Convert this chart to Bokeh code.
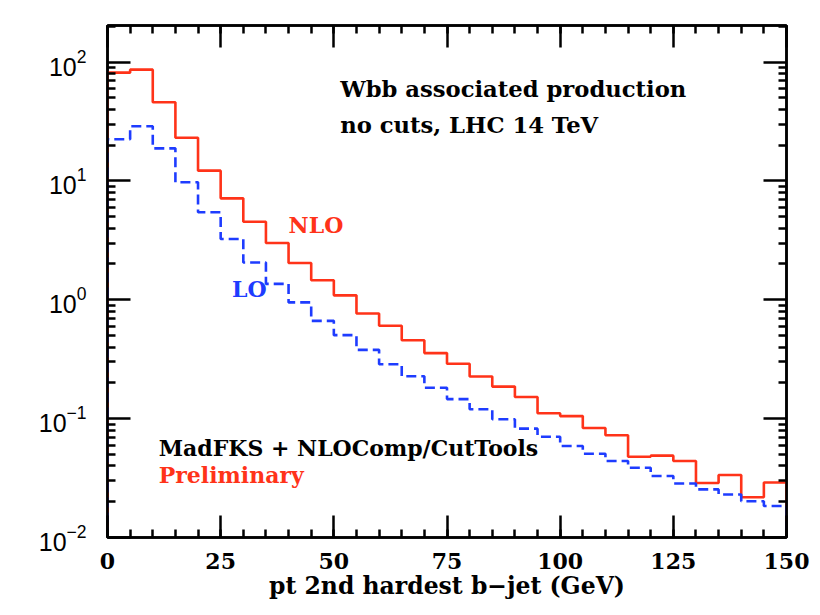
from bokeh.plotting import figure
from bokeh.models import (Range1d, FixedTicker, LinearAxis, LogAxis, Label,
                          CustomJSTickFormatter, LogTickFormatter)
from bokeh.embed import file_html
from bokeh.resources import INLINE

# ---- data -----------------------------------------------------------------
bin_edges = list(range(0, 155, 5))
nlo = [81.4, 86.3, 45.9, 23.1, 12.2, 7.13, 4.54, 3.0, 2.04, 1.46,
       1.09, 0.767, 0.604, 0.457, 0.356, 0.290, 0.226, 0.186, 0.152, 0.111,
       0.105, 0.0835, 0.0724, 0.0478, 0.0488, 0.044, 0.0287, 0.0336, 0.0218, 0.029]
lo = [22.4, 28.8, 18.8, 9.75, 5.45, 3.25, 2.06, 1.36, 0.95, 0.665,
      0.504, 0.379, 0.287, 0.227, 0.182, 0.146, 0.120, 0.0988, 0.0824, 0.0705,
      0.0589, 0.0507, 0.044, 0.0386, 0.0329, 0.0285, 0.0254, 0.023, 0.0202, 0.0184]

x_major = [0, 25, 50, 75, 100, 125, 150]
x_minor = list(range(0, 155, 5))
y_major = [0.01, 0.1, 1, 10, 100]
y_minor = [m * 10.0 ** e for e in range(-2, 3) for m in range(2, 10)]

Y_MIN, Y_MAX = 0.01, 203.0
X_MIN, X_MAX = 0, 150

RED = "#ff3319"
BLUE = "#1e3cff"
SERIF = "DejaVu Serif"
SANS = "Liberation Sans"


def step_path(edges, vals, floor):
    xs, ys = [edges[0]], [floor]
    for i, v in enumerate(vals):
        xs += [edges[i], edges[i + 1]]
        ys += [v, v]
    xs.append(edges[-1])
    ys.append(floor)
    return xs, ys


p = figure(width=820, height=615, output_backend="svg", toolbar_location=None,
           y_axis_type="log", x_range=Range1d(X_MIN, X_MAX),
           y_range=Range1d(Y_MIN, Y_MAX),
           min_border_left=107, min_border_right=34,
           min_border_top=25, min_border_bottom=78)
p.background_fill_color = "white"
p.border_fill_color = "white"
p.grid.visible = False
p.outline_line_color = "black"
p.outline_line_width = 2.5

xs, ys = step_path(bin_edges, nlo, Y_MIN)
p.line(xs, ys, line_color=RED, line_width=2.6)
xs, ys = step_path(bin_edges, lo, Y_MIN)
p.line(xs, ys, line_color=BLUE, line_width=2.6, line_dash="10 5")

blank = CustomJSTickFormatter(code="return ''")


def style_axis(ax, major_len, minor_len):
    ax.axis_line_color = "black"
    ax.axis_line_width = 2.5
    ax.major_tick_line_color = "black"
    ax.minor_tick_line_color = "black"
    ax.major_tick_line_width = 2.5
    ax.minor_tick_line_width = 2.5
    ax.major_tick_in = major_len
    ax.major_tick_out = 0
    ax.minor_tick_in = minor_len
    ax.minor_tick_out = 0


xt = FixedTicker(ticks=x_major, minor_ticks=x_minor)
yt = FixedTicker(ticks=y_major, minor_ticks=y_minor)

bx = p.xaxis[0]
bx.ticker = xt
style_axis(bx, 22, 8)
bx.major_label_text_font = SERIF
bx.major_label_text_font_style = "bold"
bx.major_label_text_font_size = "22px"
bx.major_label_text_color = "black"
bx.major_label_standoff = 15
bx.axis_label = "pt 2nd hardest b\u2212jet (GeV)"
bx.axis_label_text_font = SERIF
bx.axis_label_text_font_style = "bold"
bx.axis_label_text_font_size = "23.5px"
bx.axis_label_text_color = "black"
bx.axis_label_standoff = 0

ly = p.yaxis[0]
ly.ticker = yt
ly.formatter = LogTickFormatter()
style_axis(ly, 23, 8)
ly.major_label_text_font = SANS
ly.major_label_text_font_size = "25px"
ly.major_label_text_color = "black"
ly.major_label_standoff = 21

top = LinearAxis(ticker=xt, formatter=blank)
style_axis(top, 22, 8)
p.add_layout(top, "above")
right = LogAxis(ticker=yt, formatter=blank)
style_axis(right, 23, 8)
p.add_layout(right, "right")


def note(x, y, txt, color="black", size="22px"):
    p.add_layout(Label(x=x, y=y, text=txt, text_color=color, y_offset=9,
                       text_font=SERIF, text_font_style="bold",
                       text_font_size=size, text_baseline="alphabetic"))


note(51.4, 50.0, "Wbb associated production", size="22.7px")
note(51.4, 24.8, "no cuts, LHC 14 TeV", size="22.7px")
note(40.0, 3.58, "NLO", RED)
note(27.5, 1.03, "LO", BLUE)
note(11.3, 0.0475, "MadFKS + NLOComp/CutTools")
note(11.3, 0.028, "Preliminary", RED)

open("out.html", "w").write(file_html(p, INLINE))
